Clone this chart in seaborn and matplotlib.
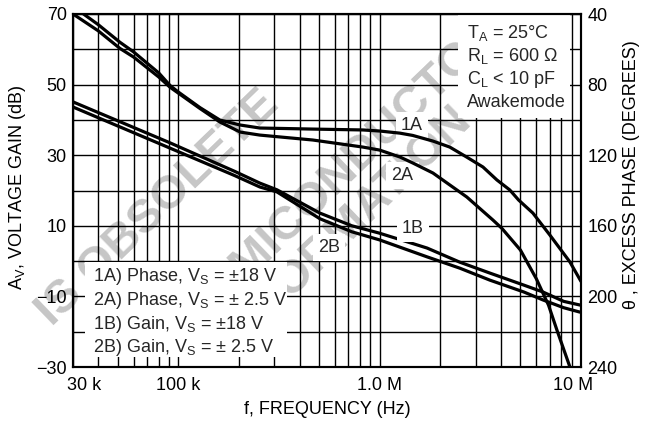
import matplotlib
matplotlib.use("Agg")
import matplotlib.pyplot as plt
import seaborn as sns
from matplotlib.ticker import FixedLocator, FixedFormatter, NullFormatter
from matplotlib.patches import Rectangle
import matplotlib.transforms as mtransforms

# ---------------- data ----------------
freq_1a = [30e3, 34.4e3, 40e3, 51.3e3, 60e3, 80e3, 91e3, 100e3, 128e3, 161e3, 203e3, 254e3,
           466e3, 826e3, 1.0e6, 1.26e6, 1.46e6, 1.84e6, 2.23e6, 2.7e6, 3.26e6, 3.82e6,
           4.43e6, 4.9e6, 5.77e6, 7.0e6, 8.81e6, 10e6]
phase_1a = [35.5, 40.6, 46.0, 56.0, 61.5, 73.4, 80.5, 84.2, 93.0, 100.1, 102.9, 104.6,
            105.2, 105.7, 106.3, 107.5, 108.8, 112.0, 115.4, 121.0, 126.7, 134.0,
            139.7, 145.4, 152.8, 165.2, 180.5, 191.5]

freq_2a = [30e3, 40e3, 51.3e3, 60e3, 80e3, 91e3, 100e3, 128e3, 161e3, 203e3, 254e3, 466e3,
           826e3, 1.0e6, 1.26e6, 1.46e6, 1.84e6, 2.71e6, 3.65e6, 4.05e6, 5.0e6, 6.0e6,
           6.9e6, 7.59e6, 8.81e6, 9.5e6]
phase_2a = [40.0, 49.5, 59.5, 64.4, 75.7, 81.5, 84.8, 93.5, 101.2, 106.9, 108.6, 111.4,
            115.4, 117.1, 121.0, 124.4, 130.1, 143.7, 156.7, 161.5, 173.7, 190.0,
            205.0, 219.0, 240.0, 252.0]

freq_1b = [30e3, 91e3, 191e3, 254e3, 309e3, 505e3, 728e3, 1.0e6, 1.72e6, 2.5e6, 3.53e6,
           5.2e6, 6.47e6, 8.2e6, 9.8e6, 10e6]
gain_1b = [45.1, 33.5, 25.4, 22.1, 20.2, 13.6, 10.0, 7.9, 3.7, -0.3, -3.4,
           -6.8, -8.75, -11.4, -12.4, -12.5]

freq_2b = [30e3, 91e3, 191e3, 254e3, 309e3, 505e3, 728e3, 1.0e6, 1.72e6, 2.5e6, 3.53e6,
           5.2e6, 6.47e6, 8.2e6, 9.8e6, 10e6]
gain_2b = [43.65, 32.0, 24.2, 21.0, 19.6, 12.0, 8.3, 6.0, 1.2, -2.0, -5.4,
           -8.75, -11.0, -13.2, -14.4, -14.5]

x_major = [3e4, 1e5, 1e6, 1e7]
x_major_labels = ["30 k", "100 k", "1.0 M", "10 M"]
x_minor = [4e4, 5e4, 6e4, 7e4, 8e4, 9e4,
           2e5, 3e5, 4e5, 5e5, 6e5, 7e5, 8e5, 9e5,
           2e6, 3e6, 4e6, 5e6, 6e6, 7e6, 8e6, 9e6]
gain_ticks = [-30, -10, 10, 30, 50, 70]
gain_tick_labels = ["\u221230", "\u221210", "10", "30", "50", "70"]
gain_minor = [-20, 0, 20, 40, 60]
phase_ticks = [40, 80, 120, 160, 200, 240]
phase_tick_labels = ["40", "80", "120", "160", "200", "240"]

cond_lines = ["T$_\\mathregular{A}$ = 25\u00b0C", "R$_\\mathregular{L}$ = 600 \u03a9",
              "C$_\\mathregular{L}$ < 10 pF", "Awakemode"]
legend_lines = ["1A) Phase, V$_\\mathregular{S}$ = \u00b118 V",
                "2A) Phase, V$_\\mathregular{S}$ = \u00b1 2.5 V",
                "1B) Gain, V$_\\mathregular{S}$ = \u00b118 V",
                "2B) Gain, V$_\\mathregular{S}$ = \u00b1 2.5 V"]
watermark_lines = ["IS OBSOLETE", "SEMICONDUCTOR", "INFORMATION"]

# ---------------- style ----------------
sns.set_style("white")
plt.rcParams["font.family"] = ["Liberation Sans", "DejaVu Sans"]
plt.rcParams["mathtext.default"] = "regular"
plt.rcParams["axes.unicode_minus"] = True
FS = 13

fig = plt.figure(figsize=(6.52, 4.32), dpi=100)
fig.patch.set_facecolor("white")

W, H = 652.0, 432.0
L, R, T, B = 73.0, 581.0, 14.0, 367.0
ax = fig.add_axes([L / W, 1 - B / H, (R - L) / W, (B - T) / H])
ax.set_facecolor("none")
ax.set_xscale("log")
ax.set_xlim(3e4, 1e7)
ax.set_ylim(-30, 70)

def fx(px):
    return (px - L) / (R - L)

def fy(py):
    return (B - py) / (B - T)

# watermark (behind everything)
wm = dict(color="#c6c6c6", fontsize=34, fontweight="bold", rotation=44,
          rotation_mode="anchor", zorder=-5, ha="right", va="center")
for txt, (px, py) in zip(watermark_lines, [(272, 98), (496, 24), (465, 112)]):
    fig.text(px / W, 1 - py / H, txt, **wm)

# grid
ax.xaxis.set_major_locator(FixedLocator(x_major))
ax.xaxis.set_major_formatter(FixedFormatter(x_major_labels))
ax.xaxis.set_minor_locator(FixedLocator(x_minor))
ax.xaxis.set_minor_formatter(NullFormatter())
ax.yaxis.set_major_locator(FixedLocator(gain_ticks))
ax.yaxis.set_major_formatter(FixedFormatter(gain_tick_labels))
ax.yaxis.set_minor_locator(FixedLocator(gain_minor))
ax.yaxis.set_minor_formatter(NullFormatter())
ax.grid(True, which="both", axis="both", color="black", linewidth=1.0)
ax.set_axisbelow(True)
ax.tick_params(axis="both", which="both", length=0, labelsize=FS, colors="black")
ax.tick_params(axis="y", pad=4.5)
ax.tick_params(axis="x", pad=7)

# gain curves
lw = 2.3
sns.lineplot(x=freq_1b, y=gain_1b, ax=ax, color="black", linewidth=lw, zorder=3)
sns.lineplot(x=freq_2b, y=gain_2b, ax=ax, color="black", linewidth=lw, zorder=3)

# white boxes
ax.add_patch(Rectangle((fx(458), fy(118)), fx(570) - fx(458), fy(T) - fy(118),
                       transform=ax.transAxes, facecolor="white", edgecolor="none", zorder=2))
ax.add_patch(Rectangle((fx(85), fy(357)), fx(287) - fx(85), fy(262) - fy(357),
                       transform=ax.transAxes, facecolor="white", edgecolor="none", zorder=2))

for txt, by in zip(cond_lines, [38, 61, 84, 107]):
    ax.text(fx(467), fy(by), txt, transform=ax.transAxes, fontsize=FS,
            ha="left", va="baseline", zorder=4)
for txt, by in zip(legend_lines, [281, 305, 329, 352]):
    ax.text(fx(93), fy(by), txt, transform=ax.transAxes, fontsize=FS,
            ha="left", va="baseline", zorder=4)

bb = dict(boxstyle="square,pad=0.3", facecolor="white", edgecolor="none")
for txt, cx, by in [("1A", 412, 130), ("2A", 402.5, 180), ("1B", 413, 233), ("2B", 329, 252)]:
    ax.text(fx(cx), fy(by), txt, transform=ax.transAxes, fontsize=FS,
            ha="center", va="baseline", bbox=bb, zorder=4)

# phase axis
ax2 = ax.twinx()
ax2.set_ylim(240, 40)
sns.lineplot(x=freq_1a, y=phase_1a, ax=ax2, color="black", linewidth=lw, zorder=3)
sns.lineplot(x=freq_2a, y=phase_2a, ax=ax2, color="black", linewidth=lw, zorder=3)
ax2.set_xlim(3e4, 1e7)
ax2.yaxis.set_major_locator(FixedLocator(phase_ticks))
ax2.yaxis.set_major_formatter(FixedFormatter(phase_tick_labels))
ax2.yaxis.set_minor_formatter(NullFormatter())
ax2.grid(False)
ax2.tick_params(axis="y", which="both", length=0, labelsize=FS, pad=4.5, colors="black")

for a in (ax, ax2):
    for s in a.spines.values():
        s.set_visible(True)
        s.set_color("black")
        s.set_linewidth(1.5)

# axis labels
ax.set_xlabel("f, FREQUENCY (Hz)", fontsize=FS, color="black", va="center")
ax.xaxis.set_label_coords(0.5, fy(410))
ax.set_ylabel("A$_\\mathregular{V}$, VOLTAGE GAIN (dB)", fontsize=FS, color="black", va="center")
ax.yaxis.set_label_coords(fx(18), fy(187))
ax2.set_ylabel("\u03b8 , EXCESS PHASE (DEGREES)", fontsize=FS, color="black",
               va="center", rotation=90)
ax2.yaxis.set_label_coords(fx(632), fy(175))

# shift the end x tick labels inward like the reference
labels = ax.get_xticklabels()
off_first = mtransforms.ScaledTranslation(11 / 100, 0, fig.dpi_scale_trans)
off_last = mtransforms.ScaledTranslation(-8 / 100, 0, fig.dpi_scale_trans)
labels[0].set_transform(labels[0].get_transform() + off_first)
labels[-1].set_transform(labels[-1].get_transform() + off_last)

fig.savefig("out.png", dpi=100, facecolor="white")
